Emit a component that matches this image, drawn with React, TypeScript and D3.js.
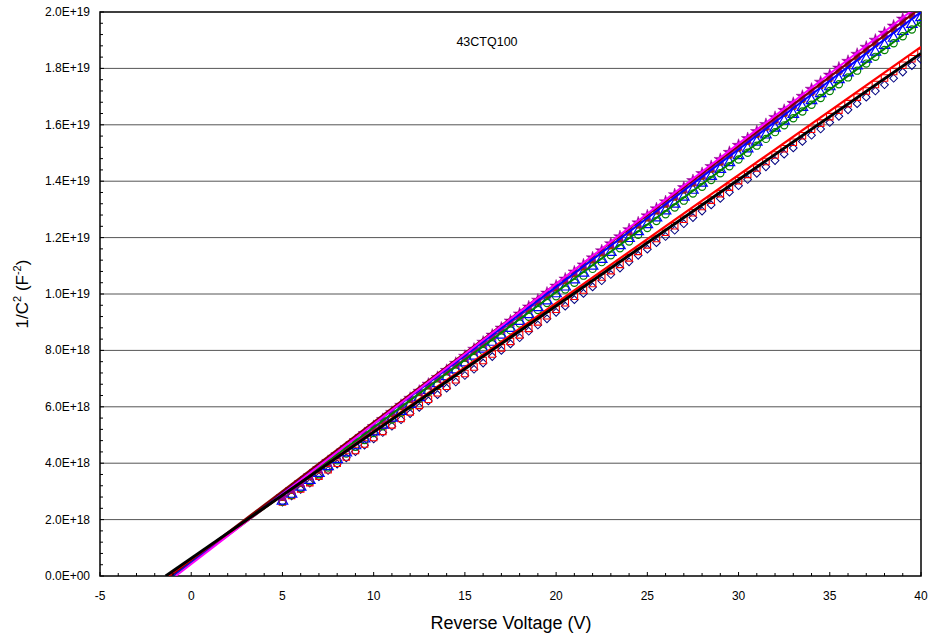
import React from "react";
import * as d3 from "d3";

// Reverse voltage (V)
const voltage = [
  5, 5.5, 6, 6.5, 7, 7.5, 8, 8.5, 9, 9.5, 10, 10.5, 11, 11.5, 12, 12.5, 13, 13.5, 14, 14.5,
  15, 15.5, 16, 16.5, 17, 17.5, 18, 18.5, 19, 19.5, 20, 20.5, 21, 21.5, 22, 22.5, 23, 23.5, 24, 24.5,
  25, 25.5, 26, 26.5, 27, 27.5, 28, 28.5, 29, 29.5, 30, 30.5, 31, 31.5, 32, 32.5, 33, 33.5, 34, 34.5,
  35, 35.5, 36, 36.5, 37, 37.5, 38, 38.5, 39, 39.5, 40,
];

// 1/C^2 values in units of 1E18 F^-2
const diamonds = [
  2.62, 2.84, 3.07, 3.29, 3.52, 3.74, 3.97, 4.19, 4.41, 4.64, 4.86, 5.09, 5.31, 5.54, 5.76, 5.98, 6.21, 6.43, 6.66, 6.88,
  7.11, 7.33, 7.55, 7.78, 8.0, 8.23, 8.45, 8.68, 8.9, 9.12, 9.35, 9.57, 9.8, 10.02, 10.25, 10.47, 10.69, 10.92, 11.14, 11.37,
  11.59, 11.82, 12.04, 12.26, 12.49, 12.71, 12.94, 13.16, 13.39, 13.61, 13.84, 14.06, 14.28, 14.51, 14.73, 14.96, 15.18, 15.41, 15.63, 15.85,
  16.08, 16.3, 16.53, 16.75, 16.98, 17.2, 17.42, 17.65, 17.87, 18.1, 18.32,
];
const squares = [
  2.63, 2.86, 3.09, 3.31, 3.54, 3.77, 4.0, 4.22, 4.45, 4.68, 4.91, 5.13, 5.36, 5.59, 5.82, 6.05, 6.27, 6.5, 6.73, 6.96,
  7.18, 7.41, 7.64, 7.87, 8.09, 8.32, 8.55, 8.78, 9.01, 9.23, 9.46, 9.69, 9.92, 10.14, 10.37, 10.6, 10.83, 11.05, 11.28, 11.51,
  11.74, 11.97, 12.19, 12.42, 12.65, 12.88, 13.1, 13.33, 13.56, 13.79, 14.02, 14.24, 14.47, 14.7, 14.93, 15.15, 15.38, 15.61, 15.84, 16.06,
  16.29, 16.52, 16.75, 16.98, 17.2, 17.43, 17.66, 17.89, 18.11, 18.34, 18.57,
];
const circles = [
  2.64, 2.88, 3.13, 3.37, 3.61, 3.85, 4.1, 4.34, 4.58, 4.82, 5.07, 5.31, 5.55, 5.79, 6.04, 6.28, 6.52, 6.76, 7.01, 7.25,
  7.49, 7.73, 7.98, 8.22, 8.46, 8.71, 8.95, 9.19, 9.43, 9.68, 9.92, 10.16, 10.4, 10.65, 10.89, 11.13, 11.37, 11.62, 11.86, 12.1,
  12.34, 12.59, 12.83, 13.07, 13.31, 13.56, 13.8, 14.04, 14.28, 14.53, 14.77, 15.01, 15.26, 15.5, 15.74, 15.98, 16.23, 16.47, 16.71, 16.95,
  17.2, 17.44, 17.68, 17.92, 18.17, 18.41, 18.65, 18.89, 19.14, 19.38, 19.62,
];
const triangles = [
  2.66, 2.9, 3.15, 3.39, 3.64, 3.88, 4.13, 4.37, 4.62, 4.86, 5.11, 5.35, 5.6, 5.84, 6.09, 6.33, 6.58, 6.82, 7.07, 7.31,
  7.56, 7.8, 8.05, 8.29, 8.54, 8.78, 9.03, 9.27, 9.52, 9.76, 10.01, 10.25, 10.5, 10.74, 10.99, 11.23, 11.48, 11.72, 11.97, 12.21,
  12.46, 12.7, 12.95, 13.19, 13.44, 13.68, 13.93, 14.17, 14.42, 14.66, 14.91, 15.15, 15.39, 15.64, 15.88, 16.13, 16.37, 16.62, 16.86, 17.11,
  17.35, 17.6, 17.84, 18.09, 18.33, 18.58, 18.82, 19.07, 19.31, 19.56, 19.8,
];
const brownPts = [
  2.76, 3.01, 3.26, 3.5, 3.75, 4.0, 4.25, 4.49, 4.74, 4.99, 5.24, 5.48, 5.73, 5.98, 6.23, 6.48, 6.72, 6.97, 7.22, 7.47,
  7.71, 7.96, 8.21, 8.46, 8.7, 8.95, 9.2, 9.45, 9.7, 9.94, 10.19, 10.44, 10.69, 10.93, 11.18, 11.43, 11.68, 11.92, 12.17, 12.42,
  12.67, 12.92, 13.16, 13.41, 13.66, 13.91, 14.15, 14.4, 14.65, 14.9, 15.15, 15.39, 15.64, 15.89, 16.14, 16.38, 16.63, 16.88, 17.13, 17.37,
  17.62, 17.87, 18.12, 18.37, 18.61, 18.86, 19.11, 19.36, 19.6, 19.85, 20.1,
];
const stars = [
  2.81, 3.06, 3.31, 3.56, 3.81, 4.06, 4.3, 4.55, 4.8, 5.05, 5.3, 5.55, 5.8, 6.05, 6.3, 6.55, 6.8, 7.04, 7.29, 7.54,
  7.79, 8.04, 8.29, 8.54, 8.79, 9.04, 9.29, 9.54, 9.78, 10.03, 10.28, 10.53, 10.78, 11.03, 11.28, 11.53, 11.78, 12.03, 12.28, 12.52,
  12.77, 13.02, 13.27, 13.52, 13.77, 14.02, 14.27, 14.52, 14.77, 15.02, 15.27, 15.51, 15.76, 16.01, 16.26, 16.51, 16.76, 17.01, 17.26, 17.51,
  17.76, 18.01, 18.25, 18.5, 18.75, 19.0, 19.25, 19.5, 19.75, 20.0, 20.25,
];

// Linear fit lines: x-intercept (V) and value at 40 V (1E18 units)
const fitNames = ["green", "blue", "brown", "magenta", "red", "black"];
const fitIntercepts = [-1.0, -1.05, -1.15, -0.85, -1.3, -1.4];
const fitEndValues = [19.65, 20.0, 20.15, 20.3, 18.76, 18.53];
const fitColors = ["#008000", "#0000FF", "#800000", "#FF00FF", "#FF0000", "#000000"];
const fitWidths = [2, 2, 2, 2, 2.2, 3];

const xTicks = [-5, 0, 5, 10, 15, 20, 25, 30, 35, 40];
const xTickLabels = ["-5", "0", "5", "10", "15", "20", "25", "30", "35", "40"];
const yTicks = [0, 2, 4, 6, 8, 10, 12, 14, 16, 18, 20];
const yTickLabels = [
  "0.0E+00", "2.0E+18", "4.0E+18", "6.0E+18", "8.0E+18", "1.0E+19",
  "1.2E+19", "1.4E+19", "1.6E+19", "1.8E+19", "2.0E+19",
];

const W = 933;
const H = 639;
const L = 100, R = 921, T = 12, B = 576;

export default function App() {
  const x = d3.scaleLinear().domain([-5, 40]).range([L, R]);
  const y = d3.scaleLinear().domain([0, 20]).range([B, T]);
  const xMinor = d3.range(-5, 40.001, 1);
  const yMinor = d3.range(0, 20.001, 0.4);
  const font = "'Liberation Sans', Arial, sans-serif";

  const sym = (type: any, size: number) => d3.symbol().type(type).size(size)() as string;
  const triPath = sym(d3.symbolTriangle, 48);
  const starPath = sym(d3.symbolStar, 50);
  const sqPath = sym(d3.symbolSquare, 42);
  const diaPath = sym(d3.symbolSquare, 30);
  const brownPath = sym(d3.symbolSquare, 22);
  const line = d3.line<[number, number]>().x((d) => x(d[0])).y((d) => y(d[1]));

  const markerSeries = [
    { vals: diamonds, path: diaPath, rot: 45, fill: "none", stroke: "#000080", sw: 1 },
    { vals: squares, path: sqPath, rot: 0, fill: "none", stroke: "#FF0000", sw: 1.1 },
    { vals: circles, path: null, rot: 0, fill: "none", stroke: "#008000", sw: 1.2 },
    { vals: triangles, path: triPath, rot: 0, fill: "none", stroke: "#0000FF", sw: 1.2 },
    { vals: brownPts, path: brownPath, rot: 0, fill: "#993300", stroke: "#993300", sw: 1 },
    { vals: stars, path: starPath, rot: 0, fill: "#990099", stroke: "#990099", sw: 0.5 },
  ];

  return (
    <svg width={W} height={H} style={{ display: "block", position: "absolute", left: 0, top: 0 }}>
      <defs>
        <clipPath id="plot">
          <rect x={L} y={T} width={R - L} height={B - T} />
        </clipPath>
      </defs>
      <rect x={0} y={0} width={W} height={H} fill="#fff" />
      {yTicks.slice(1, -1).map((t) => (
        <line key={"g" + t} x1={L} x2={R} y1={y(t)} y2={y(t)} stroke="#555" strokeWidth={1} />
      ))}
      <rect x={L} y={T} width={R - L} height={B - T} fill="none" stroke="#000" strokeWidth={1.5} />
      <g clipPath="url(#plot)">
        {markerSeries.map((s, si) => (
          <g key={"m" + si}>
            {s.vals.map((v, i) =>
              s.path ? (
                <path
                  key={i}
                  d={s.path}
                  transform={`translate(${x(voltage[i])},${y(v)}) rotate(${s.rot})`}
                  fill={s.fill}
                  stroke={s.stroke}
                  strokeWidth={s.sw}
                />
              ) : (
                <circle key={i} cx={x(voltage[i])} cy={y(v)} r={3.6} fill="none" stroke={s.stroke} strokeWidth={s.sw} />
              )
            )}
          </g>
        ))}
        {fitNames.map((n, i) => (
          <path
            key={n}
            d={line([[fitIntercepts[i], 0], [40, fitEndValues[i]]]) as string}
            stroke={fitColors[i]}
            strokeWidth={fitWidths[i]}
            fill="none"
          />
        ))}
      </g>
      {xMinor.map((t) => (
        <line key={"xm" + t} x1={x(t)} x2={x(t)} y1={B} y2={B - (t % 5 === 0 ? 4 : 3)} stroke="#000" strokeWidth={1} />
      ))}
      {yMinor.map((t, i) => (
        <line key={"ym" + i} x1={L} x2={L + (i % 5 === 0 ? 4 : 3)} y1={y(t)} y2={y(t)} stroke="#000" strokeWidth={1} />
      ))}
      {xTicks.map((t, i) => (
        <text key={"xl" + t} x={x(t)} y={600} textAnchor="middle" fontFamily={font} fontSize={12} fill="#000">
          {xTickLabels[i]}
        </text>
      ))}
      {yTicks.map((t, i) => (
        <text key={"yl" + t} x={90} y={y(t) + 4} textAnchor="end" fontFamily={font} fontSize={12} fill="#000">
          {yTickLabels[i]}
        </text>
      ))}
      <text x={487} y={46} textAnchor="middle" fontFamily={font} fontSize={12.5} fill="#000">
        43CTQ100
      </text>
      <text x={511} y={629} textAnchor="middle" fontFamily={font} fontSize={18} fill="#000">
        Reverse Voltage (V)
      </text>
      <text transform="translate(28,294) rotate(-90)" textAnchor="middle" fontFamily={font} fontSize={17} fill="#000">
        1/C<tspan fontSize={11} dy={-7}>2</tspan>
        <tspan dy={7}> (F</tspan>
        <tspan fontSize={11} dy={-7}>-2</tspan>
        <tspan dy={7}>)</tspan>
      </text>
    </svg>
  );
}
